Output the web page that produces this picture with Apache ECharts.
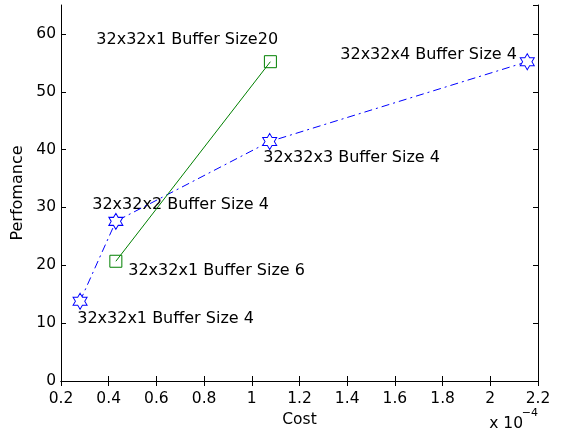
<!DOCTYPE html>
<html><head><meta charset="utf-8">
<script src="https://cdn.jsdelivr.net/npm/echarts@6/dist/echarts.min.js"></script>
<style>html,body{margin:0;padding:0;background:#fff}#c{width:568px;height:437px}</style>
</head><body><div id="c"></div>
<script>
// Cost values in units of 1e-4
var starCost = [0.28, 0.43, 1.075, 2.155];
var starPerf = [13.8, 27.6, 41.4, 55.2];
var squareCost = [0.43, 1.078];
var squarePerf = [20.7, 55.2];
var noteText = ['32x32x1 Buffer Size20','32x32x4 Buffer Size 4','32x32x3 Buffer Size 4','32x32x2 Buffer Size 4','32x32x1 Buffer Size 6','32x32x1 Buffer Size 4'];
var noteX = [0.348, 1.371, 1.048, 0.331, 0.482, 0.268];
var noteY = [58.9, 56.3, 38.6, 30.5, 19.1, 10.7];

var FONT = '"DejaVu Sans", sans-serif';
var hexagram = 'path://M0,-1L0.2887,-0.5L0.866,-0.5L0.577,0L0.866,0.5L0.2887,0.5L0,1L-0.2887,0.5L-0.866,0.5L-0.577,0L-0.866,-0.5L-0.2887,-0.5Z';

function zip(a,b){return a.map(function(v,i){return [v,b[i]];});}

var chart = echarts.init(document.getElementById('c'), null, {renderer:'canvas'});
var axisLine = {show:true, lineStyle:{color:'#000', width:1}};
chart.setOption({
  animation:false,
  backgroundColor:'#fff',
  grid:{left:61, right:30, top:5, bottom:56, containLabel:false},
  xAxis:[{
    type:'value', min:0.2, max:2.2, interval:0.2, position:'bottom',
    name:'Cost', nameLocation:'middle', nameGap:27,
    nameTextStyle:{fontFamily:FONT, fontSize:15.5, color:'#000'},
    axisLine:axisLine, axisTick:{inside:true, length:5, lineStyle:{color:'#000'}},
    axisLabel:{fontFamily:FONT, fontSize:15.5, color:'#000', margin:10,
      formatter:function(v){return String(Math.round(v*10)/10);}},
    splitLine:{show:false}
  },{
    type:'value', min:0.2, max:2.2, interval:0.2, position:'top',
    axisLine:axisLine, axisTick:{inside:true, length:5, lineStyle:{color:'#000'}},
    axisLabel:{show:false}, splitLine:{show:false}
  }],
  yAxis:[{
    type:'value', min:0, max:65, interval:10, position:'left',
    name:'Perfomance', nameLocation:'middle', nameGap:33, nameRotate:90,
    nameTextStyle:{fontFamily:FONT, fontSize:16, color:'#000'},
    axisLine:axisLine, axisTick:{inside:true, length:5, lineStyle:{color:'#000'}},
    axisLabel:{fontFamily:FONT, fontSize:15.5, color:'#000', margin:5, showMaxLabel:false},
    splitLine:{show:false}
  },{
    type:'value', min:0, max:65, interval:10, position:'right',
    axisLine:axisLine, axisTick:{inside:true, length:5, lineStyle:{color:'#000'}},
    axisLabel:{show:false}, splitLine:{show:false}
  }],
  series:[{
    type:'line', data:zip(starCost, starPerf), symbol:hexagram, symbolSize:[14,16],
    itemStyle:{color:'#fff', borderColor:'#0000ff', borderWidth:1},
    lineStyle:{color:'#0000ff', width:1, type:[8,4,2,4]}
  },{
    type:'line', data:zip(squareCost, squarePerf), symbol:'rect', symbolSize:12,
    itemStyle:{color:'rgba(0,0,0,0)', borderColor:'#008000', borderWidth:1},
    lineStyle:{color:'#008000', width:1}
  },{
    type:'scatter', data:zip(noteX, noteY).map(function(p,i){return {value:p, name:noteText[i]};}),
    symbolSize:0, silent:true, itemStyle:{color:'#000', opacity:1},
    label:{show:true, position:'right', distance:0, formatter:'{b}', opacity:1,
      fontFamily:FONT, fontSize:16, color:'#000000', textBorderWidth:0}
  }],
  graphic:[{
    type:'text', right:45, top:416,
    style:{text:'x 10', fontFamily:FONT, fontSize:15.5, fill:'#000'}
  },{
    type:'text', right:30, top:408,
    style:{text:'−4', fontFamily:FONT, fontSize:11, fill:'#000'}
  }]
});
</script></body></html>
